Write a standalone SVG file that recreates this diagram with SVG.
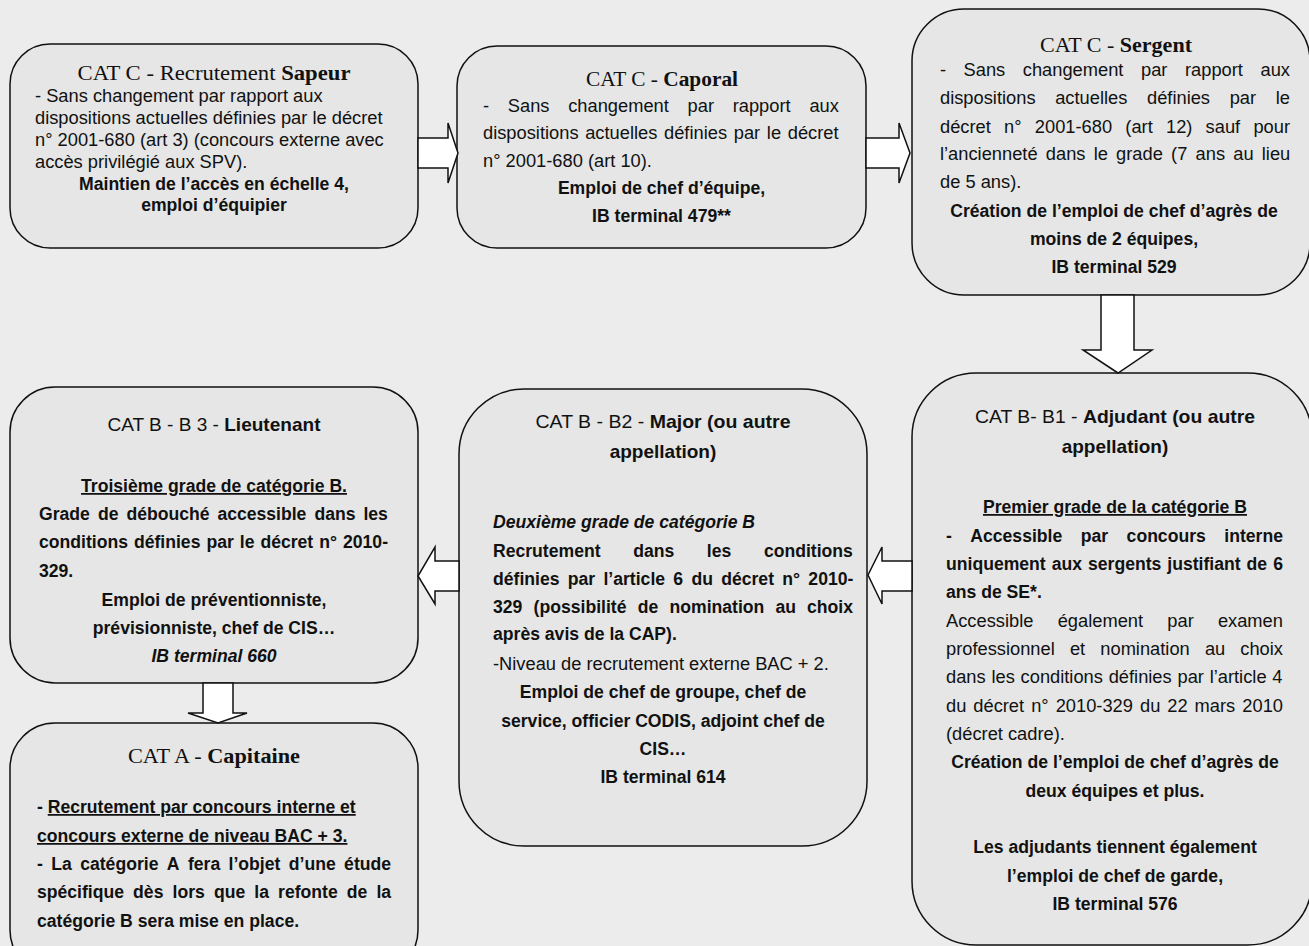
<svg xmlns="http://www.w3.org/2000/svg" width="1309" height="946" viewBox="0 0 1309 946">
<style>
.box{fill:#e5e6e5;stroke:#111;stroke-width:1.5}
.arr{fill:#fff;stroke:#111;stroke-width:1.5;stroke-linejoin:miter}
text{font-family:'Liberation Sans',Arial,sans-serif;font-size:18.3px;fill:#111}
.b{font-weight:bold;font-size:17.6px}
.bw{font-weight:bold}
.i{font-style:italic}
.c{text-anchor:middle}
.ser{font-family:'Liberation Serif','Times New Roman',serif;font-size:20px}
.st{font-size:19px}
.u{text-decoration:underline}
</style>
<rect x="0" y="0" width="1309" height="946" fill="#ebeceb"/>

<g id="node-sapeur">
<rect class="box" x="10" y="44" width="408" height="204" rx="40"/>
<text class="ser c" x="214" y="80" textLength="273" lengthAdjust="spacingAndGlyphs">CAT C - Recrutement <tspan class="bw">Sapeur</tspan></text>
<text x="35" y="102">- Sans changement par rapport aux</text>
<text x="35" y="124">dispositions actuelles définies par le décret</text>
<text x="35" y="146">n° 2001-680 (art 3) (concours externe avec</text>
<text x="35" y="168">accès privilégié aux SPV).</text>
<text class="b c" x="214" y="190">Maintien de l’accès en échelle 4,</text>
<text class="b c" x="214" y="211">emploi d’équipier</text>
</g>

<g id="node-caporal">
<rect class="box" x="457" y="46" width="409" height="202" rx="40"/>
<text class="ser c" x="662" y="86" textLength="152" lengthAdjust="spacingAndGlyphs">CAT C - <tspan class="bw">Caporal</tspan></text>
<text y="112"><tspan x="483">-</tspan><tspan x="507.8">Sans</tspan><tspan x="568.2">changement</tspan><tspan x="687.6">par</tspan><tspan x="732.7">rapport</tspan><tspan x="809.4">aux</tspan></text>
<text x="483" y="139" style="word-spacing:1.6px">dispositions actuelles définies par le décret</text>
<text x="483" y="167">n° 2001-680 (art 10).</text>
<text class="b c" x="661.5" y="194">Emploi de chef d’équipe,</text>
<text class="b c" x="661.5" y="222">IB terminal 479**</text>
</g>

<g id="node-sergent">
<rect class="box" x="912" y="9" width="398" height="286" rx="52"/>
<text class="ser c" x="1116" y="52" textLength="152" lengthAdjust="spacingAndGlyphs">CAT C - <tspan class="bw">Sergent</tspan></text>
<text y="76"><tspan x="940">-</tspan><tspan x="963.6">Sans</tspan><tspan x="1022.8">changement</tspan><tspan x="1141">par</tspan><tspan x="1185">rapport</tspan><tspan x="1260.5">aux</tspan></text>
<text y="104"><tspan x="940">dispositions</tspan><tspan x="1055.2">actuelles</tspan><tspan x="1147">définies</tspan><tspan x="1229.7">par</tspan><tspan x="1275.7">le</tspan></text>
<text y="133"><tspan x="940">décret</tspan><tspan x="1004.1">n°</tspan><tspan x="1034.8">2001-680</tspan><tspan x="1125.3">(art</tspan><tspan x="1166">12)</tspan><tspan x="1205.6">sauf</tspan><tspan x="1253.4">pour</tspan></text>
<text y="160"><tspan x="940">l’ancienneté</tspan><tspan x="1045.8">dans</tspan><tspan x="1093.7">le</tspan><tspan x="1116.1">grade</tspan><tspan x="1171.1">(7</tspan><tspan x="1195.6">ans</tspan><tspan x="1233.3">au</tspan><tspan x="1261.8">lieu</tspan></text>
<text x="940" y="188">de 5 ans).</text>
<text class="b c" x="1114" y="217">Création de l’emploi de chef d’agrès de</text>
<text class="b c" x="1114" y="245">moins de 2 équipes,</text>
<text class="b c" x="1114" y="273">IB terminal 529</text>
</g>

<g id="node-adjudant">
<rect class="box" x="912" y="373" width="400" height="572" rx="64"/>
<text class="st c" x="1115" y="423" textLength="280" lengthAdjust="spacingAndGlyphs">CAT B- B1 - <tspan class="bw">Adjudant (ou autre</tspan></text>
<text class="st bw c" x="1115" y="453">appellation)</text>
<text class="b c u" x="1115" y="513">Premier grade de la catégorie B</text>
<text class="b" y="542"><tspan x="946">-</tspan><tspan x="970.3">Accessible</tspan><tspan x="1080.8">par</tspan><tspan x="1126.6">concours</tspan><tspan x="1224.3">interne</tspan></text>
<text class="b" x="946" y="570" style="word-spacing:1.1px">uniquement aux sergents justifiant de 6</text>
<text class="b" x="946" y="598">ans de SE*.</text>
<text y="627"><tspan x="946">Accessible</tspan><tspan x="1057.7">également</tspan><tspan x="1167.3">par</tspan><tspan x="1217.9">examen</tspan></text>
<text y="655"><tspan x="946">professionnel</tspan><tspan x="1069.9">et</tspan><tspan x="1100.3">nomination</tspan><tspan x="1204.9">au</tspan><tspan x="1240.3">choix</tspan></text>
<text x="946" y="683" style="word-spacing:0.7px">dans les conditions définies par l’article 4</text>
<text y="712"><tspan x="946">du</tspan><tspan x="973.3">décret</tspan><tspan x="1031.2">n°</tspan><tspan x="1055.7">2010-329</tspan><tspan x="1140">du</tspan><tspan x="1167.3">22</tspan><tspan x="1194.6">mars</tspan><tspan x="1242.3">2010</tspan></text>
<text x="946" y="740">(décret cadre).</text>
<text class="b c" x="1115" y="768">Création de l’emploi de chef d’agrès de</text>
<text class="b c" x="1115" y="797">deux équipes et plus.</text>
<text class="b c" x="1115" y="853">Les adjudants tiennent également</text>
<text class="b c" x="1115" y="882">l’emploi de chef de garde,</text>
<text class="b c" x="1115" y="910">IB terminal 576</text>
</g>

<g id="node-major">
<rect class="box" x="459" y="389" width="408" height="457" rx="65"/>
<text class="st c" x="663" y="428" textLength="255" lengthAdjust="spacingAndGlyphs">CAT B - B2 - <tspan class="bw">Major (ou autre</tspan></text>
<text class="st bw c" x="663" y="458">appellation)</text>
<text class="b i" x="493" y="528">Deuxième grade de catégorie B</text>
<text class="b" y="557"><tspan x="493">Recrutement</tspan><tspan x="633.2">dans</tspan><tspan x="706.8">les</tspan><tspan x="763.9">conditions</tspan></text>
<text class="b" x="493" y="585" style="word-spacing:3.4px">définies par l’article 6 du décret n° 2010-</text>
<text class="b" y="613"><tspan x="493">329</tspan><tspan x="533.6">(possibilité</tspan><tspan x="637.8">de</tspan><tspan x="669.5">nomination</tspan><tspan x="775.5">au</tspan><tspan x="807">choix</tspan></text>
<text class="b" x="493" y="640">après avis de la CAP).</text>
<text x="493" y="670">-Niveau de recrutement externe BAC + 2.</text>
<text class="b c" x="663" y="698">Emploi de chef de groupe, chef de</text>
<text class="b c" x="663" y="727">service, officier CODIS, adjoint chef de</text>
<text class="b c" x="663" y="755">CIS…</text>
<text class="b c" x="663" y="783">IB terminal 614</text>
</g>

<g id="node-lieutenant">
<rect class="box" x="10" y="387" width="408" height="296" rx="45"/>
<text class="st c" x="214" y="431" textLength="213" lengthAdjust="spacingAndGlyphs">CAT B - B 3 - <tspan class="bw">Lieutenant</tspan></text>
<text class="b c u" x="214" y="492">Troisième grade de catégorie B.</text>
<text class="b" y="520"><tspan x="39">Grade</tspan><tspan x="97.9">de</tspan><tspan x="126.4">débouché</tspan><tspan x="217.4">accessible</tspan><tspan x="314.4">dans</tspan><tspan x="363.4">les</tspan></text>
<text class="b" x="39" y="548" style="word-spacing:1.1px">conditions définies par le décret n° 2010-</text>
<text class="b" x="39" y="577">329.</text>
<text class="b c" x="214" y="606">Emploi de préventionniste,</text>
<text class="b c" x="214" y="634">prévisionniste, chef de CIS…</text>
<text class="b i c" x="214" y="662">IB terminal 660</text>
</g>

<g id="node-capitaine">
<rect class="box" x="10" y="723" width="408" height="252" rx="45"/>
<text class="ser c" x="214" y="763" textLength="172" lengthAdjust="spacingAndGlyphs">CAT A - <tspan class="bw">Capitaine</tspan></text>
<text class="b" x="37" y="813">- <tspan class="u">Recrutement par concours interne et</tspan></text>
<text class="b u" x="37" y="842">concours externe de niveau BAC + 3.</text>
<text class="b" y="870"><tspan x="37">-</tspan><tspan x="51.3">La</tspan><tspan x="80.2">catégorie</tspan><tspan x="166.8">A</tspan><tspan x="187.9">fera</tspan><tspan x="228.6">l’objet</tspan><tspan x="288.8">d’une</tspan><tspan x="344.1">étude</tspan></text>
<text class="b" y="898"><tspan x="37">spécifique</tspan><tspan x="133.1">dès</tspan><tspan x="172.5">lors</tspan><tspan x="213.9">que</tspan><tspan x="254.3">la</tspan><tspan x="278.1">refonte</tspan><tspan x="346.8">de</tspan><tspan x="376.4">la</tspan></text>
<text class="b" x="37" y="927">catégorie B sera mise en place.</text>
</g>

<g id="connectors">
<polygon class="arr" points="418,138 448,138 448,123 458,153 448,183 448,168 418,168"/>
<polygon class="arr" points="866,138 899,138 899,123 910,153 899,183 899,168 866,168"/>
<polygon class="arr" points="1101,295 1134,295 1134,350 1152,350 1118,373 1083,350 1101,350"/>
<polygon class="arr" points="912,561 882,561 882,547 868,575 882,604 882,591 912,591"/>
<polygon class="arr" points="459,561 435,561 435,547 418,576 435,604 435,591 459,591"/>
<polygon class="arr" points="203,683 233,683 233,713 247,713 218,723 188,713 203,713"/>
</g>
</svg>
